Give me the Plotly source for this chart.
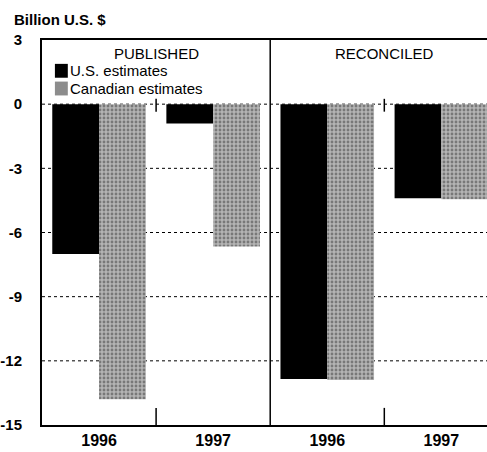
import plotly.graph_objects as go

# --- DATA ---
years = ['1996', '1997', '1996', '1997']
panels = ['PUBLISHED', 'RECONCILED']
series_names = ['U.S. estimates', 'Canadian estimates']
us_estimates = [-7.0, -0.9, -12.85, -4.4]
canadian_estimates = [-13.8, -6.65, -12.9, -4.45]
y_ticks = [3, 0, -3, -6, -9, -12, -15]

x_pos = list(range(len(years)))
FONT = 'Liberation Sans, Arial, sans-serif'
GRAY_PATTERN = dict(shape='.', fgcolor='#3c3c3c', bgcolor='#b4b4b4', size=4, solidity=0.4)

fig = go.Figure()
fig.add_trace(go.Bar(
    x=x_pos, y=us_estimates, name=series_names[0],
    marker=dict(color='black', line=dict(width=0))
))
fig.add_trace(go.Bar(
    x=x_pos, y=canadian_estimates, name=series_names[1],
    marker=dict(color='#a0a0a0', line=dict(width=0), pattern=GRAY_PATTERN)
))

# dotted grid lines (0 included)
for v in [0, -3, -6, -9, -12]:
    fig.add_shape(type='line', xref='paper', x0=0, x1=1, yref='y', y0=v, y1=v,
                  line=dict(color='black', width=1, dash='dot'), layer='below')

# panel divider
fig.add_shape(type='line', xref='x', x0=1.5, x1=1.5, yref='y', y0=-15, y1=3,
              line=dict(color='black', width=1.5))
# short ticks between years
for xv in [0.5, 2.5]:
    fig.add_shape(type='line', xref='x', x0=xv, x1=xv, yref='y', y0=-15, y1=-14.2,
                  line=dict(color='black', width=1.5))
    fig.add_shape(type='line', xref='x', x0=xv, x1=xv, yref='y', y0=0.25, y1=-0.35,
                  line=dict(color='black', width=1.5))

# panel titles
for i, p in enumerate(panels):
    fig.add_annotation(x=0.5 + 2 * i, y=2.35, xref='x', yref='y', text=p,
                       showarrow=False, font=dict(family=FONT, size=15, color='black'))

# hand made legend (square swatch right next to the text)
swatch_colors = ['black', '#8c8c8c']
for i, name in enumerate(series_names):
    top = 0.938 - i * 0.046
    fig.add_shape(type='rect', xref='paper', yref='paper',
                  x0=0.029, x1=0.058, y0=top - 0.036, y1=top,
                  fillcolor=swatch_colors[i], line=dict(width=0))
    fig.add_annotation(x=0.059, y=top - 0.018, xref='paper', yref='paper',
                       xanchor='left', yanchor='middle', text=name, showarrow=False,
                       font=dict(family=FONT, size=15, color='black'))

# axis title
fig.add_annotation(x=-0.067, y=1.052, xref='paper', yref='paper', xanchor='left',
                   yanchor='middle', text='<b>Billion U.S. $</b>', showarrow=False,
                   font=dict(family=FONT, size=15, color='black'))

fig.update_layout(
    width=487, height=452,
    margin=dict(l=42, r=0, t=40, b=27, autoexpand=False),
    plot_bgcolor='white', paper_bgcolor='white',
    barmode='group', bargap=0.18, bargroupgap=0,
    font=dict(family=FONT, size=14, color='black'),
    showlegend=False,
)
fig.update_xaxes(
    range=[-0.5, 3.4], tickmode='array', tickvals=x_pos,
    ticktext=[f'<b>{y}</b>' for y in years], ticks='', automargin=False,
    showgrid=False, zeroline=False, showline=True, linecolor='black', linewidth=2,
    mirror=True, tickfont=dict(size=16)
)
fig.update_yaxes(
    range=[-15, 3], tickmode='array', tickvals=y_ticks,
    ticktext=[f'<b>{v}</b>' for v in y_ticks], ticks='', automargin=False,
    showgrid=False, zeroline=False, showline=True, linecolor='black', linewidth=2,
    mirror=False, tickfont=dict(size=15), ticklabelstandoff=15
)

# drop the page's default 8px body margin so the figure sits at the corner
fig.write_html("out.html", config={'displayModeBar': False},
               post_script="document.body.style.margin='0';")
